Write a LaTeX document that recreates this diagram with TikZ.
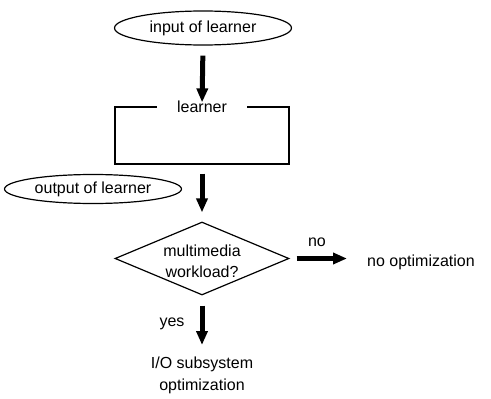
\documentclass[tikz,border=0pt]{standalone}
\usepackage{fontspec}
\setmainfont{Liberation Sans}
\usetikzlibrary{shapes.geometric,arrows.meta}
\begin{document}
\begin{tikzpicture}[x=1pt,y=-1pt,
  every node/.style={font=\fontsize{16}{21.5}\selectfont},
  outline/.style={draw=black,line width=1.2pt},
  oval/.style={outline,ellipse,inner sep=0pt},
  bigarrow/.style={line width=5pt,-{Triangle[length=14pt,width=11pt]}},
  txt/.style={inner sep=0pt,align=center}]
\useasboundingbox (0,0) rectangle (491,399);

% ovals for the learner's input and output
\node[oval,minimum width=177pt,minimum height=34pt] (in) at (203,28) {input of learner};
\node[oval,minimum width=177pt,minimum height=29pt] (out) at (93,189) {output of learner};

% learner box with its title sitting in a gap of the top edge
\node[outline,rectangle,minimum width=174pt,minimum height=57pt,inner sep=0pt] (lbox) at (202,135.5) {};
\node[fill=white,inner xsep=20pt,inner ysep=2pt] (ltitle) at (lbox.north) {learner};

% decision
\node[outline,diamond,minimum width=174pt,minimum height=73pt,inner sep=0pt] (dec) at (202,258.5) {};
\node[txt] (dtext) at (202,261.5) {multimedia\\workload?};

% outcomes
\node[txt,anchor=west] (noopt) at (367,262) {no optimization};
\node[txt,anchor=north] (io) at (202,357) {I/O subsystem\\optimization};
\node[txt] (yes) at (172,324) {yes};
\node[txt] (no) at (317,242) {no};

% flow arrows
\draw[bigarrow,shorten <=10pt,shorten >=4pt] (in.south) -- (lbox.north);
\draw[bigarrow,shorten <=9pt,shorten >=9pt] (lbox.south) -- (dec.north);
\draw[bigarrow,shorten <=7pt,shorten >=20pt] (dec.east) -- (dec.east -| noopt.west);
\draw[bigarrow,shorten <=10pt,shorten >=12pt] (dec.south) -- (io.north);
\end{tikzpicture}
\end{document}
